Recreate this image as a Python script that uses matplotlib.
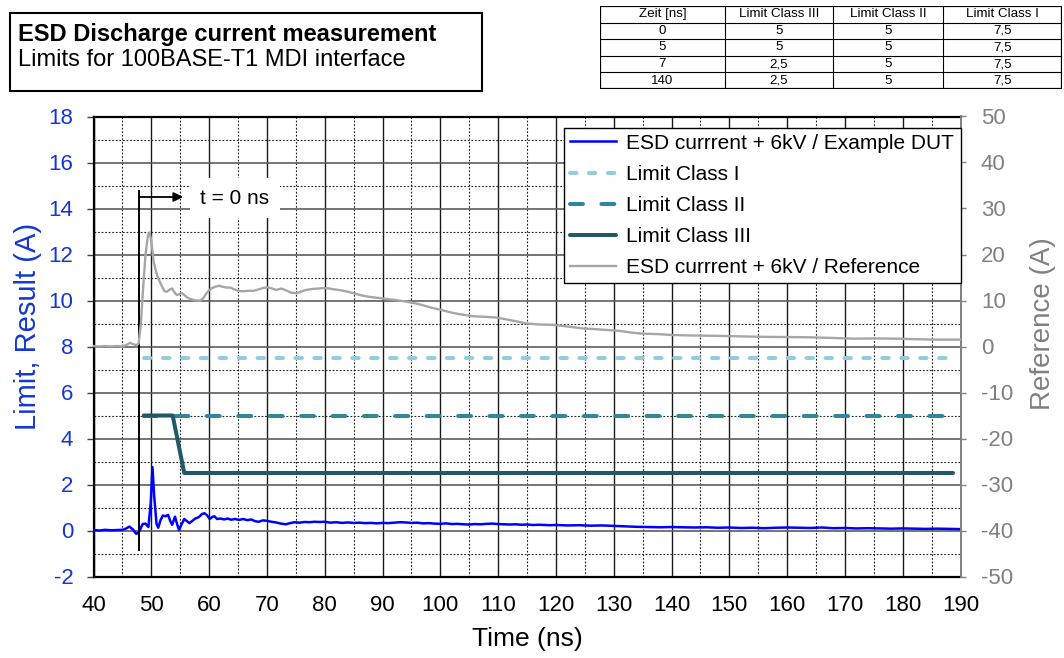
import matplotlib
matplotlib.use("Agg")
import matplotlib.pyplot as plt
from matplotlib.ticker import MultipleLocator
from matplotlib.patches import Rectangle
import numpy as np

plt.rcParams['font.family'] = ['Liberation Sans', 'DejaVu Sans']
plt.rcParams['axes.unicode_minus'] = False

# ---------------- data ----------------
dut_t = [40.0, 41.0, 42.0, 43.0, 44.0, 45.0, 45.6, 46.2, 46.8, 47.4, 47.9, 48.5, 49.0, 49.5,
         49.9, 50.2, 50.5, 50.9, 51.2, 51.6, 52.0, 52.5, 52.9, 53.3, 53.6, 54.1, 54.5, 54.8,
         55.2, 55.7, 56.2, 56.6, 57.1, 57.6, 58.2, 58.8, 59.2, 59.7, 60.1, 60.5, 60.9, 61.4,
         62.0, 62.6, 63.2, 63.8, 64.5, 65.2, 65.9, 66.6, 67.3, 68.0, 68.6, 69.3, 70.0, 70.8,
         71.6, 72.4, 73.3, 74.0, 74.8, 75.6, 76.5, 77.4, 78.2, 79.2, 80.0, 81.0, 82.0, 83.0,
         84.0, 85.0, 86.0, 87.0, 88.0, 89.0, 90.0, 91.0, 92.0, 93.0, 94.0, 95.0, 96.0, 97.0,
         98.0, 99.0, 100.0, 101.0, 102.0, 103.0, 104.0, 105.0, 106.0, 107.0, 108.0, 109.0,
         110.0, 111.0, 112.0, 113.0, 114.0, 115.0, 116.0, 117.0, 118.0, 119.0, 120.0, 122.0,
         124.0, 126.0, 128.0, 130.0, 132.0, 134.0, 136.0, 138.0, 140.0, 142.0, 144.0, 146.0,
         148.0, 150.0, 152.0, 154.0, 156.0, 158.0, 160.0, 162.0, 164.0, 166.0, 168.0, 170.0,
         172.0, 174.0, 176.0, 178.0, 180.0, 182.0, 184.0, 186.0, 188.0, 190.0]
dut_a = [0.02, 0.00, 0.03, 0.01, 0.02, 0.03, 0.08, 0.17, 0.05, -0.15, -0.05, 0.28, 0.30, 0.15,
         1.20, 2.76, 1.50, 0.30, 0.12, 0.45, 0.65, 0.62, 0.68, 0.40, 0.25, 0.60, 0.25, 0.02,
         0.25, 0.50, 0.40, 0.32, 0.42, 0.52, 0.58, 0.72, 0.75, 0.65, 0.50, 0.58, 0.62, 0.50,
         0.52, 0.48, 0.52, 0.47, 0.50, 0.46, 0.50, 0.45, 0.48, 0.40, 0.38, 0.44, 0.42, 0.38,
         0.35, 0.30, 0.27, 0.32, 0.36, 0.34, 0.37, 0.36, 0.38, 0.37, 0.38, 0.34, 0.36, 0.33,
         0.35, 0.33, 0.34, 0.32, 0.33, 0.31, 0.33, 0.32, 0.34, 0.36, 0.35, 0.33, 0.34, 0.31,
         0.32, 0.30, 0.29, 0.31, 0.28, 0.29, 0.27, 0.26, 0.28, 0.27, 0.29, 0.30,
         0.28, 0.27, 0.26, 0.27, 0.25, 0.26, 0.24, 0.25, 0.24, 0.23, 0.24, 0.22,
         0.23, 0.21, 0.22, 0.20, 0.18, 0.16, 0.15, 0.14, 0.15, 0.14, 0.13, 0.14,
         0.12, 0.13, 0.11, 0.12, 0.10, 0.12, 0.13, 0.12, 0.11, 0.13, 0.10, 0.11,
         0.09, 0.10, 0.09, 0.08, 0.09, 0.08, 0.07, 0.08, 0.07, 0.06]

ref_t = [40, 41, 42, 43, 44, 45, 45.8, 46.3, 46.9, 47.4, 47.8, 48.2, 48.6, 49.0, 49.4, 49.7,
         50.0, 50.4, 50.9, 51.3, 51.8, 52.3, 52.7, 53.2, 53.6, 54.0, 54.4, 54.9, 55.3, 55.8,
         56.3, 56.8, 57.3, 57.9, 58.5, 59.0, 59.5, 59.9, 60.5, 61.1, 61.7, 62.3, 63.0, 63.7,
         64.4, 65.1, 65.8, 66.5, 67.2, 67.7, 68.5, 69.3, 70.1, 70.9, 71.6, 72.5, 73.3, 74.2,
         75.2, 76.0, 76.8, 77.8, 78.8, 79.8, 80.8, 81.8, 82.9, 84.0, 85.2, 86.4, 87.7, 89.0,
         90.3, 91.6, 92.9, 94.3, 95.6, 96.9, 98.0, 98.9, 100.0, 101.5, 103.0, 104.5, 105.5,
         107, 109.6, 111, 113, 115, 117, 119.5, 121, 123, 124.8, 126.5, 128.7, 131, 133.2,
         135, 137.5, 140.1, 143, 146, 148.5, 152, 156, 160, 164, 168, 171.4, 175, 179, 182,
         185, 188, 190]
ref_a = [0.1, 0.0, 0.1, 0.0, 0.1, 0.0, 0.4, 0.8, 0.5, 0.3, 0.6, 5.0, 13.0, 20.0, 24.0, 24.8,
         23.0, 18.5, 15.9, 14.5, 13.2, 12.0, 11.9, 12.4, 12.6, 11.8, 11.2, 11.4, 11.6, 11.1,
         10.6, 10.3, 10.1, 10.0, 10.0, 10.5, 11.5, 12.1, 12.7, 13.0, 13.2, 13.0, 12.8, 12.8,
         12.4, 12.1, 12.0, 12.1, 12.1, 12.1, 12.4, 12.7, 12.9, 12.6, 12.3, 12.6, 12.2, 11.7,
         11.6, 12.0, 12.3, 12.5, 12.6, 12.7, 12.6, 12.4, 12.2, 11.9, 11.5, 11.1, 10.8, 10.6,
         10.4, 10.2, 10.0, 9.7, 9.4, 9.0, 8.6, 8.3, 8.0, 7.5, 7.1, 6.8, 6.6,
         6.5, 6.3, 6.0, 5.5, 5.0, 4.8, 4.7, 4.5, 4.2, 3.9, 3.8, 3.6, 3.4, 3.0,
         2.8, 2.7, 2.5, 2.4, 2.35, 2.3, 2.2, 2.1, 2.05, 2.0, 1.85, 1.7, 1.75, 1.7, 1.6,
         1.5, 1.5, 1.5]

limit_time = [0, 5, 7, 140]          # Zeit [ns]
limit_class3 = [5, 5, 2.5, 2.5]
limit_class2 = [5, 5, 5, 5]
limit_class1 = [7.5, 7.5, 7.5, 7.5]
t_zero = 48.7                         # time of t = 0 on the time axis (ns)

table_header = ['Zeit [ns]', 'Limit Class III', 'Limit Class II', 'Limit Class I']

x_ticks = list(range(40, 191, 10))
y_left_ticks = list(range(-2, 19, 2))
y_right_ticks = list(range(-50, 51, 10))

# ---------------- style ----------------
C_DUT = '#0000FF'
C_REF = '#A6A6A6'
C_L1 = '#93CDDD'
C_L2 = '#31859C'
C_L3 = '#215968'
C_BLUE_TXT = '#1437D4'
C_GRAY_TXT = '#808080'
TICK_FS = 16

W, H = 1064, 658
fig = plt.figure(figsize=(W / 100, H / 100), dpi=100)
ax = fig.add_axes([93.5 / W, 1 - 576.5 / H, 867 / W, 460 / H])
ax2 = ax.twinx()

ax.set_xlim(40, 190)
ax.set_ylim(-2, 18)
ax2.set_ylim(-50, 50)

# grid
ax.xaxis.set_major_locator(MultipleLocator(10))
ax.xaxis.set_minor_locator(MultipleLocator(5))
ax.yaxis.set_major_locator(MultipleLocator(2))
ax.yaxis.set_minor_locator(MultipleLocator(1))
ax2.yaxis.set_major_locator(MultipleLocator(10))
ax.set_axisbelow(True)
ax.grid(which='major', axis='x', color='#1a1a1a', lw=1.0, ls='-')
ax.grid(which='major', axis='y', color='#5c5c5c', lw=1.2, ls='-')
ax.grid(which='minor', color='#222222', lw=0.8, ls=(0, (1.6, 1.6)))

ax.set_xticks(x_ticks)
ax.set_yticks(y_left_ticks)
ax2.set_yticks(y_right_ticks)

ax.tick_params(axis='x', which='both', length=0, pad=13, labelsize=TICK_FS, colors='black')
ax.tick_params(axis='y', which='major', length=5, width=1, direction='out', pad=9.5,
               labelsize=TICK_FS, color='#404040', labelcolor=C_BLUE_TXT)
ax.tick_params(axis='y', which='minor', length=0)
ax2.tick_params(axis='y', which='major', length=3.6, width=1, direction='out', pad=11,
                labelsize=TICK_FS, color=C_GRAY_TXT, labelcolor=C_GRAY_TXT)

for s in ['top', 'bottom', 'left']:
    ax.spines[s].set_color('black')
    ax.spines[s].set_linewidth(1.6)
ax.spines['right'].set_visible(False)
for s in ['top', 'bottom', 'left']:
    ax2.spines[s].set_visible(False)
ax2.spines['right'].set_color(C_GRAY_TXT)
ax2.spines['right'].set_linewidth(1.4)

# series
l_dut, = ax.plot(dut_t, dut_a, color=C_DUT, lw=1.8, solid_joinstyle='round',
                 label='ESD currrent + 6kV / Example DUT', zorder=3)
lim_x = [t_zero + v for v in limit_time]
l1, = ax.plot(lim_x, limit_class1, color=C_L1, lw=2.9, dashes=(1.6, 3.1),
              dash_capstyle='round', label='Limit Class I', zorder=4)
l2, = ax.plot(lim_x, limit_class2, color=C_L2, lw=2.9, dashes=(3.2, 4.6),
              dash_capstyle='round', label='Limit Class II', zorder=4)
l3, = ax.plot(lim_x, limit_class3, color=C_L3, lw=2.9, solid_capstyle='round',
              solid_joinstyle='round', label='Limit Class III', zorder=5)
l_ref, = ax2.plot(ref_t, ref_a, color=C_REF, lw=1.7, solid_joinstyle='round',
                  label='ESD currrent + 6kV / Reference', zorder=3)

# t = 0 marker
marker_x = 47.9
ax.plot([marker_x, marker_x], [-0.83, 14.78], color='black', lw=1.4, zorder=6)
ax.annotate('', xy=(55.5, 14.5), xytext=(marker_x, 14.5),
            arrowprops=dict(arrowstyle='-|>', color='black', lw=1.3,
                            mutation_scale=14, shrinkA=0, shrinkB=0), zorder=6)
ax.text(64.4, 14.45, 't = 0 ns', fontsize=15, ha='center', va='center', zorder=6,
        bbox=dict(boxstyle='square,pad=0.5', fc='white', ec='none'))

# axis labels
ax.set_xlabel('Time (ns)', fontsize=19, va='center')
ax.xaxis.set_label_coords(0.5, (576.5 - 639) / 460)
ax.set_ylabel('Limit, Result (A)', fontsize=21, color=C_BLUE_TXT, va='center')
ax.yaxis.set_label_coords((28 - 93.5) / 867, (576.5 - 326) / 460)
ax2.set_ylabel('Reference (A)', fontsize=20, color=C_GRAY_TXT, va='center', rotation=90)
ax2.yaxis.set_label_coords((1043 - 93.5) / 867, (576.5 - 324) / 460)

# legend
leg = ax2.legend(handles=[l_dut, l1, l2, l3, l_ref], loc='upper right',
                 bbox_to_anchor=(1.0, 0.976), fontsize=15, frameon=True,
                 fancybox=False, edgecolor='black', framealpha=1,
                 borderpad=0.3, labelspacing=0.58, handlelength=2.2,
                 handletextpad=0.5, borderaxespad=0)
leg.get_frame().set_linewidth(1.0)

# title box
fig.patches.append(Rectangle((10 / W, 1 - 91 / H), 472 / W, 78 / H, transform=fig.transFigure,
                             fill=False, ec='black', lw=1.5))
fig.text(18 / W, 1 - 35 / H, 'ESD Discharge current measurement', fontsize=17,
         fontweight='bold', va='center', ha='left')
fig.text(18 / W, 1 - 60 / H, 'Limits for 100BASE-T1 MDI interface', fontsize=17,
         va='center', ha='left')

# table
def fmt(v):
    return f"{v:g}".replace('.', ',')

tx0, ty0, tw, th = 600, 6, 462, 83
tax = fig.add_axes([tx0 / W, 1 - (ty0 + th) / H, tw / W, th / H])
tax.set_xlim(0, tw)
tax.set_ylim(th, 0)
tax.axis('off')
col_edges = [0, 125, 233, 343, 462]
n_rows = 1 + len(limit_time)
row_h = th / n_rows
rows = [table_header] + [[fmt(limit_time[i]), fmt(limit_class3[i]), fmt(limit_class2[i]),
                          fmt(limit_class1[i])] for i in range(len(limit_time))]
for r in range(1, n_rows):
    tax.plot([0, tw], [r * row_h, r * row_h], color='black', lw=0.8)
for c in col_edges[1:-1]:
    tax.plot([c, c], [0, th], color='black', lw=0.8)
tax.add_patch(Rectangle((0, 0), tw, th, fill=False, ec='black', lw=1.6))
for r, row in enumerate(rows):
    for c, txt in enumerate(row):
        xc = (col_edges[c] + col_edges[c + 1]) / 2
        tax.text(xc, (r + 0.5) * row_h, txt, fontsize=9.6, ha='center', va='center')

fig.savefig('out.png', dpi=100)
